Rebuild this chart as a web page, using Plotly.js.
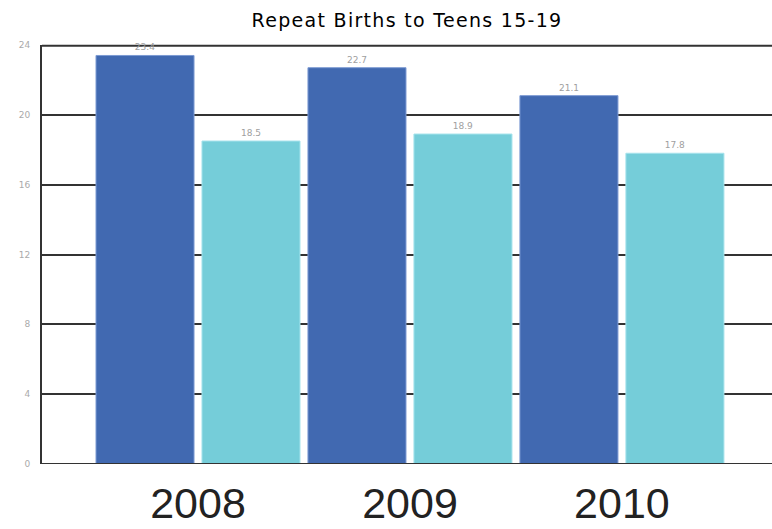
<!DOCTYPE html>
<html>
<head>
<meta charset="utf-8">
<script src="https://cdn.plot.ly/plotly-3.0.1.min.js"></script>
<style>
html,body{margin:0;padding:0;background:#fff;}
#chart{width:772px;height:529px;}
.gtitle{letter-spacing:1.3px;}
</style>
</head>
<body>
<div id="chart"></div>
<script>
const years = ["2008", "2009", "2010"];
const seriesA = [23.4, 22.7, 21.1];
const seriesB = [18.5, 18.9, 17.8];
const yTicks = [0, 4, 8, 12, 16, 20, 24];

const traces = [
  {
    type: "bar", x: years, y: seriesA, name: "A",
    marker: {color: "#4169b1", line: {color: "#7d9bd3", width: 1}},
    text: seriesA.map(v => v.toFixed(1)), textposition: "outside",
    textfont: {family: "DejaVu Sans", size: 9, color: "#a0a0a0"},
    cliponaxis: false, hoverinfo: "none"
  },
  {
    type: "bar", x: years, y: seriesB, name: "B",
    marker: {color: "#75cdd9", line: {color: "#a6e3ec", width: 1}},
    text: seriesB.map(v => v.toFixed(1)), textposition: "outside",
    textfont: {family: "DejaVu Sans", size: 9, color: "#a0a0a0"},
    cliponaxis: false, hoverinfo: "none"
  }
];

const layout = {
  width: 772, height: 529,
  margin: {l: 42, r: 0, t: 45, b: 65},
  paper_bgcolor: "#fff", plot_bgcolor: "#fff",
  showlegend: false,
  barmode: "group", bargap: 0, bargroupgap: 0.075,
  title: {
    text: "Repeat Births to Teens 15-19",
    font: {family: "DejaVu Sans", size: 19, color: "#000"},
    x: 0.5, xref: "paper", y: 0.962, yref: "container", yanchor: "middle"
  },
  xaxis: {
    type: "category", range: [-0.736, 2.708],
    showgrid: false, zeroline: false, showline: false,
    ticks: "", ticklabelstandoff: 10,
    tickfont: {family: "Liberation Sans", size: 43, color: "#222"}
  },
  yaxis: {
    range: [0, 24], tickvals: yTicks, ticktext: yTicks.map(String),
    showgrid: true, gridcolor: "#333", gridwidth: 2,
    zeroline: false, showline: true, linecolor: "#333", linewidth: 2,
    ticks: "", ticklabelstandoff: 8,
    tickfont: {family: "DejaVu Sans", size: 9, color: "#aaa"}
  },
  shapes: [
    {type: "line", xref: "paper", yref: "y", x0: 0, x1: 1, y0: 0, y1: 0,
     line: {color: "#333", width: 2}, layer: "above"},
    {type: "line", xref: "paper", yref: "paper", x0: 0, x1: 1, y0: 0.998, y1: 0.998,
     line: {color: "#333", width: 2}, layer: "below"}
  ]
};

Plotly.newPlot("chart", traces, layout, {displayModeBar: false, staticPlot: true});
</script>
</body>
</html>
